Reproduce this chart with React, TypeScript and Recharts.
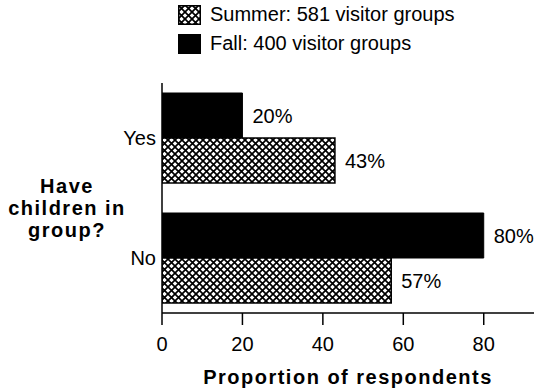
import React from "react";
import { Bar, BarChart, LabelList, XAxis, YAxis } from "recharts";

const categories = ["Yes", "No"];
const fallValues = [20, 80];
const summerValues = [43, 57];
const xTicks = [0, 20, 40, 60, 80];
const legendItems = [
  { key: "summer", label: "Summer: 581 visitor groups" },
  { key: "fall", label: "Fall: 400 visitor groups" },
];

const data = categories.map((name, i) => ({
  name,
  fall: fallValues[i],
  summer: summerValues[i],
}));

const FONT = '"Liberation Sans", Arial, sans-serif';

const HatchDef = ({ id }: { id: string }) => (
  <pattern id={id} width="7" height="7" patternUnits="userSpaceOnUse">
    <rect width="7" height="7" fill="#fff" />
    <path d="M-1,-1 L8,8 M8,-1 L-1,8" stroke="#000" strokeWidth="1.7" />
  </pattern>
);

// titulo do eixo Y em tres linhas, centrado a esquerda
const YTitle = (props: any) => {
  const vb = props.viewBox || { x: 0, y: 0, width: 0, height: 0 };
  const cx = vb.x + 67;
  const cy = vb.y + vb.height / 2;
  return (
    <text
      textAnchor="middle"
      fontFamily={FONT}
      fontSize={20}
      fontWeight="bold"
      letterSpacing={1.5}
      fill="#000"
    >
      <tspan x={cx} y={cy - 5}>Have</tspan>
      <tspan x={cx} y={cy + 17}>children in</tspan>
      <tspan x={cx} y={cy + 39}>group?</tspan>
    </text>
  );
};

const LegendBox = () => (
  <div style={{ position: "absolute", left: 178, top: 0, fontFamily: FONT }}>
    {legendItems.map((it) => (
      <div
        key={it.key}
        style={{ display: "flex", alignItems: "center", height: 29 }}
      >
        <svg width={23} height={20} style={{ display: "block" }}>
          <defs>
            <HatchDef id="legendHatch" />
          </defs>
          <rect
            x={0.75}
            y={0.75}
            width={21.5}
            height={18.5}
            fill={it.key === "fall" ? "#000" : "url(#legendHatch)"}
            stroke="#000"
            strokeWidth={1.5}
          />
        </svg>
        <span style={{ fontSize: 20, marginLeft: 9, color: "#000" }}>
          {it.label}
        </span>
      </div>
    ))}
  </div>
);

export default function App() {
  return (
    <div
      style={{
        position: "absolute",
        left: 0,
        top: 0,
        width: 534,
        height: 390,
        background: "#fff",
      }}
    >
      <BarChart
        width={534}
        height={390}
        data={data}
        layout="vertical"
        margin={{ top: 83, right: 0, bottom: 0, left: 0 }}
        barGap={0}
        barSize={45}
      >
        <defs>
          <HatchDef id="barHatch" />
        </defs>
        <XAxis
          type="number"
          domain={[0, 92.5]}
          ticks={xTicks}
          allowDataOverflow
          height={77}
          tickSize={12}
          tickMargin={12}
          axisLine={{ stroke: "#000", strokeWidth: 1.5 }}
          tickLine={{ stroke: "#000", strokeWidth: 1.5 }}
          tick={{ fill: "#000", fontSize: 20, fontFamily: FONT }}
          label={{
            value: "Proportion of respondents",
            position: "insideBottom",
            offset: 6,
            fill: "#000",
            fontSize: 20,
            fontWeight: "bold",
            fontFamily: FONT,
            letterSpacing: 1.5,
          }}
        />
        <YAxis
          type="category"
          dataKey="name"
          width={162}
          padding={{ top: -5, bottom: -5 }}
          tickLine={false}
          tickSize={0}
          tickMargin={6}
          axisLine={{ stroke: "#000", strokeWidth: 1.5 }}
          tick={{ fill: "#000", fontSize: 20, fontFamily: FONT }}
          label={{ content: <YTitle /> }}
        />
        <Bar
          dataKey="fall"
          fill="#000"
          stroke="#000"
          strokeWidth={1}
          isAnimationActive={false}
        >
          <LabelList
            dataKey="fall"
            position="right"
            offset={10}
            formatter={(v: any) => `${v}%`}
            style={{ fill: "#000", fontSize: 20, fontFamily: FONT }}
          />
        </Bar>
        <Bar
          dataKey="summer"
          fill="url(#barHatch)"
          stroke="#000"
          strokeWidth={1.5}
          isAnimationActive={false}
        >
          <LabelList
            dataKey="summer"
            position="right"
            offset={10}
            formatter={(v: any) => `${v}%`}
            style={{ fill: "#000", fontSize: 20, fontFamily: FONT }}
          />
        </Bar>
      </BarChart>
      <LegendBox />
    </div>
  );
}
